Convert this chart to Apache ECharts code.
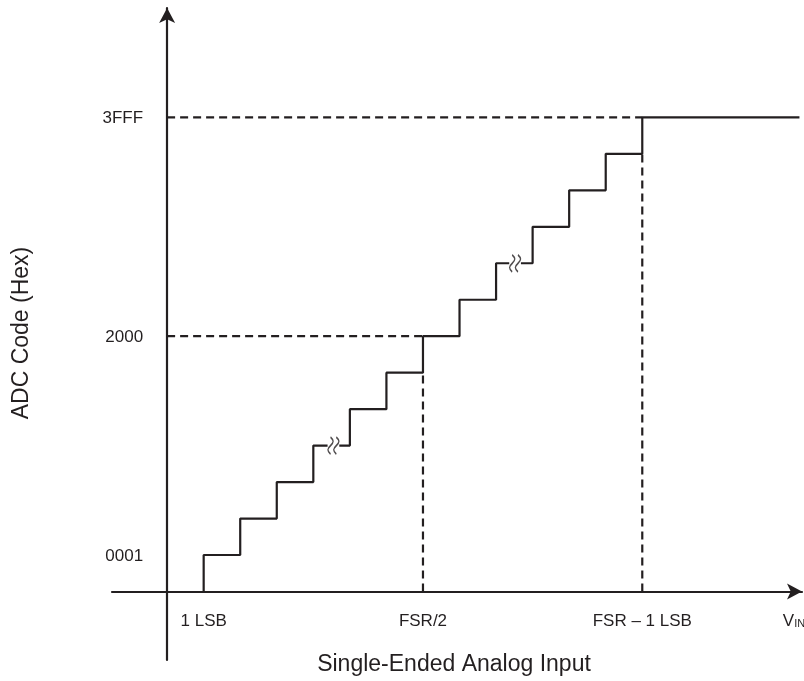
<!DOCTYPE html>
<html>
<head>
<meta charset="utf-8">
<script src="https://cdn.jsdelivr.net/npm/echarts@6/dist/echarts.min.js"></script>
<style>
html,body{margin:0;padding:0;background:#fff;}
#chart{width:804px;height:681px;}
</style>
</head>
<body>
<div id="chart"></div>
<script>
// ---- data (in LSB-step units) ----
const codeLevels = [1,2,3,4,5,6,7,8,9,10,11,12,13];      // output code steps
const riseX      = [1,2,3,4,5,6,7,8,9,10,11,12,13];      // input where code rises
const lastStepEndX = 17.3;                               // where the top code line ends
const breakX     = [4.55, 9.52];                         // break marks on staircase
const breakLevel = [4, 9];
const halfScaleX = 7, halfScaleCode = 7;                 // FSR/2 -> 2000
const fullScaleX = 13, fullScaleCode = 13;               // FSR-1LSB -> 3FFF
const yTickValues = [1, 7, 13];
const yTickLabels = ['0001', '2000', '3FFF'];
const xTickValues = [1, 7, 13, 17.15];
const xTickLabels = ['1 LSB', 'FSR/2', 'FSR \u2013 1 LSB', '{v|V}{s|IN}'];
const xTitle = 'Single-Ended Analog Input';
const yTitle = 'ADC Code (Hex)';

const X_MIN = -1.508, X_MAX = 17.37, Y_MIN = -1.879, Y_MAX = 16.0;
const INK = '#231f20';
const FONT = 'Liberation Sans, Arial, sans-serif';
const GAP = 0.16;

// build staircase points
const pts = [[riseX[0], 0]];
for (let i = 0; i < codeLevels.length; i++) {
  const xs = riseX[i];
  const xe = i + 1 < riseX.length ? riseX[i + 1] : lastStepEndX;
  pts.push([xs, codeLevels[i]]);
  const bi = breakLevel.indexOf(codeLevels[i]);
  if (bi >= 0) {
    pts.push([breakX[bi] - GAP, codeLevels[i]]);
    pts.push(null);
    pts.push([breakX[bi] + GAP, codeLevels[i]]);
  }
  pts.push([xe, codeLevels[i]]);
}
const segments = [];
let cur = [];
pts.forEach(p => { if (p === null) { segments.push(cur); cur = []; } else cur.push(p); });
segments.push(cur);

const series = segments.map(seg => ({
  type: 'line', data: seg, symbol: 'none', silent: true,
  lineStyle: { color: INK, width: 2.2 }, z: 3
}));

const dashed = [
  [[0, halfScaleCode], [halfScaleX, halfScaleCode]],
  [[halfScaleX, 0], [halfScaleX, halfScaleCode - 1]],
  [[0, fullScaleCode], [fullScaleX, fullScaleCode]],
  [[fullScaleX, 0], [fullScaleX, fullScaleCode - 1]]
];
dashed.forEach(d => series.push({
  type: 'line', data: d, symbol: 'none', silent: true,
  lineStyle: { color: INK, width: 2.2, type: [8, 5] }, z: 2
}));

// break marks
series.push({
  type: 'scatter', silent: true, z: 4,
  data: breakX.map((x, i) => [x, breakLevel[i]]),
  symbol: 'path://M0,0 C3,3 3,5 0,8 C-3,11 -3,13 0,16 M5,0 C8,3 8,5 5,8 C2,11 2,13 5,16',
  symbolSize: [11, 17],
  itemStyle: { color: 'transparent', borderColor: INK, borderWidth: 1.6 }
});

const labelBase = { show: true, formatter: '{b}', fontSize: 17, color: INK, fontFamily: FONT,
  opacity: 1, textBorderWidth: 0 };
// y tick labels
series.push({
  type: 'scatter', silent: true, symbolSize: 0, z: 5,
  data: yTickValues.map((v, i) => ({ value: [0, v], name: yTickLabels[i] })),
  label: Object.assign({}, labelBase, { position: 'left', distance: 24, offset: [0, 1] })
});
// x tick labels
series.push({
  type: 'scatter', silent: true, symbolSize: 0, z: 5,
  data: xTickValues.map((v, i) => ({ value: [v, 0], name: xTickLabels[i] })),
  label: Object.assign({}, labelBase, { position: 'bottom', distance: 21,
    rich: {
      v: { fontSize: 17, color: INK, fontFamily: FONT, verticalAlign: 'bottom' },
      s: { fontSize: 11, color: INK, fontFamily: FONT, verticalAlign: 'bottom' }
    }
  })
});

const chart = echarts.init(document.getElementById('chart'), null, { renderer: 'canvas' });
chart.setOption({
  animation: false,
  backgroundColor: '#fff',
  grid: { left: 112, right: 2, top: 8, bottom: 21, containLabel: false, outerBoundsMode: 'none' },
  xAxis: {
    type: 'value', min: X_MIN, max: X_MAX,
    splitLine: { show: false }, axisTick: { show: false }, axisLabel: { show: false },
    axisLine: { onZero: true, symbol: ['none', 'arrow'], symbolSize: [12, 15],
      lineStyle: { color: INK, width: 2.2 } }
  },
  yAxis: {
    type: 'value', min: Y_MIN, max: Y_MAX,
    splitLine: { show: false }, axisTick: { show: false }, axisLabel: { show: false },
    axisLine: { onZero: true, symbol: ['none', 'arrow'], symbolSize: [12, 15],
      lineStyle: { color: INK, width: 2.2 } }
  },
  graphic: [
    { type: 'text', x: 454, y: 665, style: { text: xTitle, font: '23px ' + FONT, fill: INK, align: 'center', verticalAlign: 'middle' } },
    { type: 'text', x: 22, y: 333, rotation: Math.PI / 2, style: { text: yTitle, font: '23px ' + FONT, fill: INK, align: 'center', verticalAlign: 'middle' } }
  ],
  series: series
});
</script>
</body>
</html>
